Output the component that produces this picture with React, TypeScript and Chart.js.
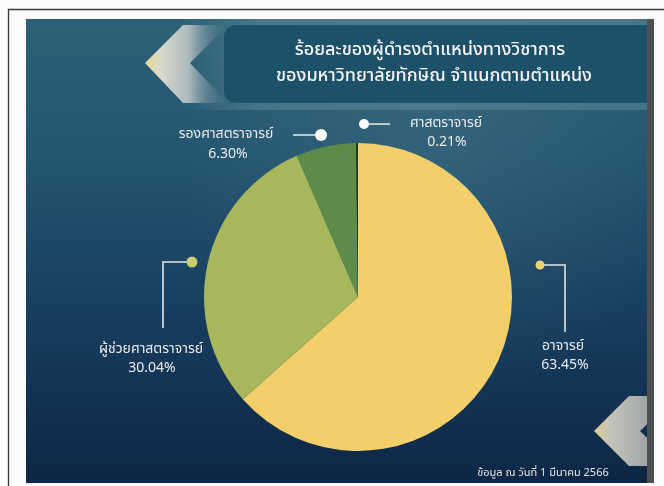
import React, { useEffect, useRef } from "react";
import { Chart, registerables } from "chart.js";

Chart.register(...registerables);

// ---- data ----
const categories = ["อาจารย์", "ผู้ช่วยศาสตราจารย์", "รองศาสตราจารย์", "ศาสตราจารย์"];
const percentages = [63.45, 30.04, 6.3, 0.21];
const percentLabels = ["63.45%", "30.04%", "6.30%", "0.21%"];
const titleLines = [
  "ร้อยละของผู้ดำรงตำแหน่งทางวิชาการ",
  "ของมหาวิทยาลัยทักษิณ จำแนกตามตำแหน่ง",
];
const footnote = "ข้อมูล ณ วันที่ 1 มีนาคม 2566";

// ---- styles ----
const sliceColors = ["#f3cf6c", "#a9b75c", "#5e8c48", "#26361f"];
const FONT = "'Noto Sans Thai', 'Noto Sans', 'DejaVu Sans', sans-serif";

// label layout: dot offset in radius units from pie centre; leader path & text in px relative to the dot
const labelLayout = [
  { dot: [1.182, -0.208], r: 4.5, color: "#f0d272", path: [[0, 0], [25, 0], [25, 67]], name: [23, 82], pct: [25, 101] },
  { dot: [-1.078, -0.227], r: 5.5, color: "#c9cd74", path: [[0, 0], [-29, 0], [-29, 66]], name: [-41, 88], pct: [-40, 107] },
  { dot: [-0.24, -1.052], r: 6, color: "#ffffff", path: [[0, 0], [-28, 0]], name: [-95, 0], pct: [-93, 20] },
  { dot: [0.039, -1.123], r: 5, color: "#ffffff", path: [[0, 0], [26, 0]], name: [82, 0], pct: [83, 19] },
];

const decorPlugin = {
  id: "decor",
  beforeDraw(chart: any) {
    const ctx = chart.ctx as CanvasRenderingContext2D;
    const W = chart.width;
    const H = chart.height;
    ctx.save();
    ctx.fillStyle = "#fbfbfb";
    ctx.fillRect(0, 0, W, H);
    // outer frame lines
    ctx.strokeStyle = "#3a3a3a";
    ctx.lineWidth = 1.3;
    ctx.beginPath();
    ctx.moveTo(8.5, H);
    ctx.lineTo(8.5, 9.5);
    ctx.lineTo(W, 9.5);
    ctx.stroke();

    // panel
    const px = 26, py = 19, pw = 621, ph = 464;
    const g = ctx.createLinearGradient(0, py, 0, py + ph);
    g.addColorStop(0, "#2d6177");
    g.addColorStop(0.3, "#235570");
    g.addColorStop(0.62, "#173f60");
    g.addColorStop(1, "#0e2645");
    ctx.fillStyle = g;
    ctx.fillRect(px, py, pw, ph);
    // haze
    const rg = ctx.createRadialGradient(430, 160, 10, 430, 160, 250);
    rg.addColorStop(0, "rgba(110,150,160,0.2)");
    rg.addColorStop(1, "rgba(110,150,160,0)");
    ctx.fillStyle = rg;
    ctx.fillRect(px, py, pw, ph);
    // right shadow strip
    ctx.fillStyle = "#4c5154";
    ctx.fillRect(647, 19, 7, 464);

    ctx.save();
    ctx.beginPath();
    ctx.rect(px, py, pw, ph);
    ctx.clip();
    // soft light around banner
    const sg = ctx.createLinearGradient(180, 0, 260, 0);
    sg.addColorStop(0, "rgba(120,160,170,0)");
    sg.addColorStop(1, "rgba(120,160,170,0.35)");
    ctx.fillStyle = sg;
    ctx.fillRect(180, 19, 470, 91);
    // title banner
    ctx.fillStyle = "#1d5069";
    ctx.beginPath();
    (ctx as any).roundRect(224, 25, 430, 78, [12, 0, 0, 12]);
    ctx.fill();

    // left chevron
    const cg = ctx.createLinearGradient(145, 0, 232, 0);
    cg.addColorStop(0, "#ead58f");
    cg.addColorStop(0.18, "#d9d8cb");
    cg.addColorStop(0.5, "rgba(195,202,202,0.85)");
    cg.addColorStop(1, "rgba(60,105,122,0)");
    ctx.fillStyle = cg;
    ctx.beginPath();
    ctx.moveTo(145, 63);
    ctx.lineTo(183, 25);
    ctx.lineTo(228, 25);
    ctx.lineTo(190, 63);
    ctx.lineTo(228, 103);
    ctx.lineTo(183, 103);
    ctx.closePath();
    ctx.fill();

    // bottom-right chevron
    const bg = ctx.createLinearGradient(594, 0, 650, 0);
    bg.addColorStop(0, "#dccb8f");
    bg.addColorStop(0.3, "#c4c4bc");
    bg.addColorStop(1, "#9ea3a3");
    ctx.fillStyle = bg;
    ctx.beginPath();
    ctx.moveTo(594, 431);
    ctx.lineTo(629, 396);
    ctx.lineTo(676, 396);
    ctx.lineTo(640, 431);
    ctx.lineTo(676, 466);
    ctx.lineTo(629, 466);
    ctx.closePath();
    ctx.fill();
    ctx.restore();
    ctx.restore();
  },
  afterDraw(chart: any) {
    const ctx = chart.ctx as CanvasRenderingContext2D;
    const meta = chart.getDatasetMeta(0);
    const arc = meta.data[0];
    const cx = arc.x;
    const cy = arc.y;
    const R = arc.outerRadius;
    ctx.save();
    // title
    ctx.fillStyle = "#f5f5f5";
    ctx.textAlign = "center";
    ctx.textBaseline = "middle";
    ctx.font = `500 18px ${FONT}`;
    ctx.fillText(titleLines[0], 430, 51);
    ctx.fillText(titleLines[1], 434, 77);

    // labels
    labelLayout.forEach((l, i) => {
      const dx = cx + l.dot[0] * R;
      const dy = cy + l.dot[1] * R;
      ctx.strokeStyle = "#e4e4e4";
      ctx.lineWidth = 1.6;
      ctx.beginPath();
      l.path.forEach((p, j) => {
        if (j === 0) ctx.moveTo(dx + p[0], dy + p[1]);
        else ctx.lineTo(dx + p[0], dy + p[1]);
      });
      ctx.stroke();
      ctx.fillStyle = l.color;
      ctx.beginPath();
      ctx.arc(dx, dy, l.r, 0, Math.PI * 2);
      ctx.fill();
      ctx.fillStyle = "#ececec";
      ctx.font = `14px ${FONT}`;
      ctx.fillText(categories[i], dx + l.name[0], dy + l.name[1]);
      ctx.fillText(percentLabels[i], dx + l.pct[0], dy + l.pct[1]);
    });

    // footnote
    ctx.fillStyle = "#e6e6e6";
    ctx.font = `11px ${FONT}`;
    ctx.fillText(footnote, 543, 474);
    ctx.restore();
  },
};

export default function App() {
  const ref = useRef<HTMLCanvasElement | null>(null);
  useEffect(() => {
    document.body.style.margin = "0";
    if (!ref.current) return;
    const chart = new Chart(ref.current, {
      type: "pie",
      data: {
        labels: categories,
        datasets: [
          {
            data: percentages,
            backgroundColor: sliceColors,
            borderWidth: 0,
          },
        ],
      },
      options: {
        animation: false,
        responsive: true,
        maintainAspectRatio: false,
        layout: { padding: { top: 143, bottom: 35, left: 204, right: 152 } },
        plugins: {
          legend: { display: false },
          tooltip: { enabled: false },
          title: { display: false },
        },
      },
      plugins: [decorPlugin],
    });
    return () => chart.destroy();
  }, []);
  return (
    <div style={{ position: "fixed", left: 0, top: 0, width: 664, height: 486 }}>
      <canvas ref={ref} />
    </div>
  );
}
